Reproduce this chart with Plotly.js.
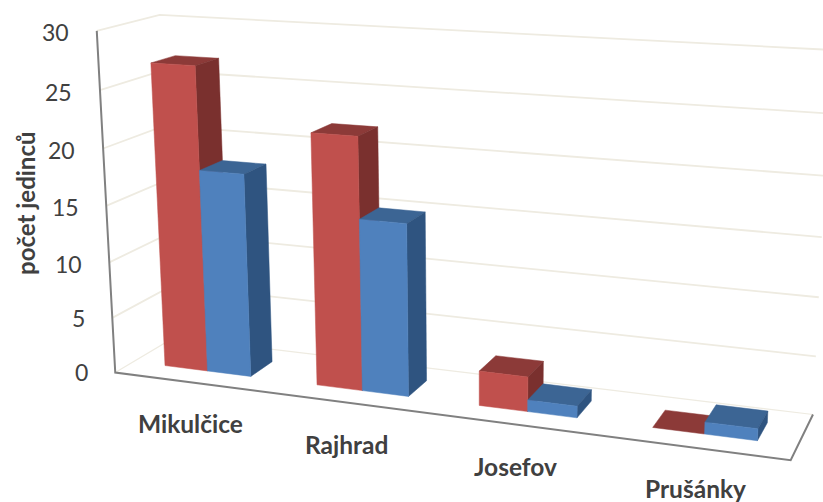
<!DOCTYPE html>
<html><head><meta charset="utf-8">
<script src="https://cdn.plot.ly/plotly-3.0.1.min.js"></script>
<style>html,body{margin:0;padding:0;background:#fff}#c{width:823px;height:502px}</style>
</head><body><div id="c"></div><script>
const categories = ["Mikulčice", "Rajhrad", "Josefov", "Prušánky"];
const seriesRed = [27, 22, 3, 0];
const seriesBlue = [18, 15, 1, 1];
const tickValues = [0, 5, 10, 15, 20, 25, 30];
const axisTitle = "počet jedinců";

// perspective calibration of the chart box: [category, depth, value] -> [px, py]
const calib = [
 [[0,0,0],[115.5,372]], [[0,0,30],[96.5,31]], [[0,1,30],[160,14.7]], [[0,1,0],[174,338]],
 [[4,0,0],[790.7,460.7]], [[4,1,0],[813,414]], [[4,1,30],[831,50]]
];
function solve(A,b){const n=b.length,M=A.map((r,i)=>[...r,b[i]]);
 for(let i=0;i<n;i++){let p=i;for(let k=i+1;k<n;k++)if(Math.abs(M[k][i])>Math.abs(M[p][i]))p=k;[M[i],M[p]]=[M[p],M[i]];
  for(let k=0;k<n;k++)if(k!==i){const f=M[k][i]/M[i][i];for(let j=i;j<=n;j++)M[k][j]-=f*M[i][j];}}
 return M.map((r,i)=>r[n]/r[i]);}
const P=(function(){const R=[],B=[];
 calib.forEach(([w,p])=>{const [a,c,e]=[w[0]/4,w[1],w[2]/30];
  R.push([a,c,e,1,0,0,0,0,-p[0]*a,-p[0]*c,-p[0]*e]);B.push(p[0]);
  R.push([0,0,0,0,a,c,e,1,-p[1]*a,-p[1]*c,-p[1]*e]);B.push(p[1]);});
 const n=11,AtA=Array.from({length:n},(_,i)=>Array.from({length:n},(_,j)=>R.reduce((s,r)=>s+r[i]*r[j],0)));
 const Atb=Array.from({length:n},(_,i)=>R.reduce((s,r,k)=>s+r[i]*B[k],0));
 return solve(AtA,Atb);})();
function proj(u,d,v){const a=u/4,c=d,e=v/30,w=P[8]*a+P[9]*c+P[10]*e+1;
 return [(P[0]*a+P[1]*c+P[2]*e+P[3])/w,(P[4]*a+P[5]*c+P[6]*e+P[7])/w];}

const traces=[];
function line(pts,color,width,dash){traces.push({type:"scatter",mode:"lines",x:pts.map(p=>p[0]),y:pts.map(p=>p[1]),
 line:{color,width,dash:dash||"solid"},hoverinfo:"skip",showlegend:false});}
function face(pts,color,name){const c=pts.concat([pts[0]]);traces.push({type:"scatter",mode:"lines",fill:"toself",fillcolor:color,name,
 x:c.map(p=>p[0]),y:c.map(p=>p[1]),line:{color,width:0.5},hoverinfo:"skip",showlegend:false});}

tickValues.forEach(v=>line([proj(0,0,v),proj(0,1,v),proj(4,1,v)],"#EEEBE1",v===0?1.2:1.8));
line([proj(0,0,30),proj(0,0,0),proj(4,0,0),proj(4,1,0)],"#808080",2);

const D0=0.3,D1=0.7,GAP=0.214,W=0.286;
function bar(u0,val,cols,name){const u1=u0+W;
 face([proj(u0,D1,val),proj(u1,D1,val),proj(u1,D0,val),proj(u0,D0,val)],cols[2],name);
 if(val>0){
  face([proj(u1,D0,0),proj(u1,D1,0),proj(u1,D1,val),proj(u1,D0,val)],cols[1],name);
  face([proj(u0,D0,0),proj(u1,D0,0),proj(u1,D0,val),proj(u0,D0,val)],cols[0],name);
 }}
const RED=["#C0504D","#7A302E","#8C3A38"],BLUE=["#4F81BD","#2F5480","#3C6594"];
categories.forEach((c,i)=>{bar(i+GAP,seriesRed[i],RED,c);bar(i+GAP+W,seriesBlue[i],BLUE,c);});

const tickX=[90,87,84,80.6,77.4,74.2,71];
const tickY=[372,318,263.5,206.7,150,91.5,31.5];
const catPos=[[190,423],[346,444],[515,466],[695,488]];
const ann=[];
tickValues.forEach((v,i)=>ann.push({x:tickX[i],y:tickY[i],xref:"x",yref:"y",text:String(v),showarrow:false,xanchor:"right",yanchor:"middle",
 font:{family:"Lato",size:23,color:"#404040"}}));
categories.forEach((c,i)=>ann.push({x:catPos[i][0],y:catPos[i][1],xref:"x",yref:"y",text:"<b>"+c+"</b>",showarrow:false,xanchor:"center",yanchor:"middle",
 font:{family:"Lato",size:24.5,color:"#404040"}}));
ann.push({x:25,y:203,xref:"x",yref:"y",text:"<b>"+axisTitle+"</b>",textangle:-90,showarrow:false,xanchor:"center",yanchor:"middle",
 font:{family:"Lato",size:24,color:"#404040"}});

Plotly.newPlot("c",traces,{width:823,height:502,margin:{l:0,r:0,t:0,b:0},paper_bgcolor:"#fff",plot_bgcolor:"#fff",showlegend:false,
 xaxis:{range:[0,823],visible:false,fixedrange:true},yaxis:{range:[502,0],visible:false,fixedrange:true},annotations:ann},
 {staticPlot:true,displayModeBar:false});
</script></body></html>
